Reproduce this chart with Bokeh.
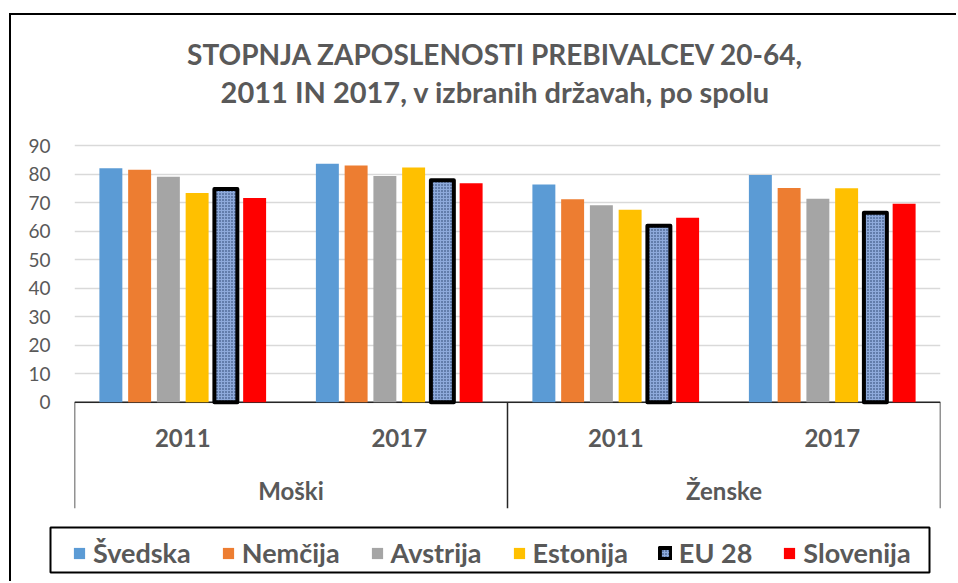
from bokeh.plotting import figure
from bokeh.models import (FactorRange, ColumnDataSource, FixedTicker, Legend, LegendItem,
                          Label, Span, Range1d, BoxAnnotation)
from bokeh.transform import dodge
from bokeh.core.properties import value
from bokeh.embed import file_html
from bokeh.resources import INLINE

# ---------------- data ----------------
sexes = ["Moški", "Ženske"]
years = ["2011", "2017"]
countries = ["Švedska", "Nemčija", "Avstrija", "Estonija", "EU 28", "Slovenija"]
svedska = [82.0, 83.6, 76.3, 79.7]
nemcija = [81.5, 83.0, 71.2, 75.1]
avstrija = [79.1, 79.3, 69.1, 71.3]
estonija = [73.4, 82.3, 67.5, 75.0]
eu28 = [74.8, 77.8, 61.9, 66.4]
slovenija = [71.6, 76.8, 64.7, 69.6]
y_ticks = [0, 10, 20, 30, 40, 50, 60, 70, 80, 90]
title_lines = ["STOPNJA ZAPOSLENOSTI PREBIVALCEV 20-64,",
               "2011 IN 2017, v izbranih državah, po spolu"]

series = [svedska, nemcija, avstrija, estonija, eu28, slovenija]
colors = ["#5b9bd5", "#ed7d31", "#a5a5a5", "#ffc000", "#8eaadb", "#ff0000"]

factors = [(s, y) for s in sexes for y in years]
year_labels = [y for s in sexes for y in years]

TXT = "#595959"
FONT = value("Lato")
BORDER = "2px solid black"

Y_BOTTOM = -37.27
Y_TOP = 135.6

p = figure(x_range=FactorRange(*factors, group_padding=0, factor_padding=0, range_padding=0),
           y_range=Range1d(Y_BOTTOM, Y_TOP),
           width=947, height=505, output_backend="svg", toolbar_location=None,
           min_border_left=63, min_border_right=18, min_border_top=0, min_border_bottom=12,
           margin=(13, 0, 0, 9),
           styles={"border-left": BORDER, "border-top": BORDER})
p.outline_line_color = None
p.background_fill_color = "white"
p.border_fill_color = "white"

p.xaxis.visible = False
p.xgrid.grid_line_color = None
p.ygrid.ticker = FixedTicker(ticks=y_ticks)
p.ygrid.grid_line_color = "#d9d9d9"
p.ygrid.grid_line_width = 1.5

p.yaxis.ticker = FixedTicker(ticks=y_ticks)
p.yaxis.axis_line_color = None
p.yaxis.major_tick_line_color = None
p.yaxis.minor_tick_line_color = None
p.yaxis.major_tick_out = 0
p.yaxis.major_label_standoff = 24
p.yaxis.major_label_text_font = "Lato"
p.yaxis.major_label_text_font_size = "19px"
p.yaxis.major_label_text_color = TXT

# category axis line
p.add_layout(Span(location=0, dimension="width", line_color="#262626", line_width=1.5,
                  level="underlay"))

# bars
pitch = 0.1328
bw = 0.106


def bar_style(name, color):
    if name == "EU 28":
        return dict(fill_color=color, line_color="black", line_width=4, line_join="round",
                    hatch_pattern="dot", hatch_color="#1f3864", hatch_scale=3, hatch_weight=2)
    return dict(fill_color=color, line_color=None)


for i, (name, vals) in enumerate(zip(countries, series)):
    src = ColumnDataSource(dict(x=factors, top=vals))
    off = (i - 2.5) * pitch
    p.vbar(x=dodge("x", off, range=p.x_range), top="top", width=bw, source=src,
           **bar_style(name, colors[i]))

# category separators (multi-level axis boxes)
sep_src = ColumnDataSource(dict(x=[factors[0], factors[2]]))
p.segment(x0=dodge("x", -0.5, range=p.x_range), x1=dodge("x", -0.5, range=p.x_range),
          y0=0, y1=Y_BOTTOM, source=sep_src, line_color="#262626", line_width=1.5)
sep_src2 = ColumnDataSource(dict(x=[factors[3]]))
p.segment(x0=dodge("x", 0.5, range=p.x_range), x1=dodge("x", 0.5, range=p.x_range),
          y0=0, y1=Y_BOTTOM, source=sep_src2, line_color="#262626", line_width=1.5)

# category labels
p.text(x=factors, y=[-12.5] * len(factors), text=year_labels, text_font=FONT,
       text_font_style="bold", text_font_size="24px", text_color=TXT,
       text_align="center", text_baseline="middle")
p.text(x=sexes, y=[-31.0] * len(sexes), text=sexes, text_font=FONT,
       text_font_style="bold", text_font_size="24px", text_color=TXT,
       text_align="center", text_baseline="middle")

# title (two centred lines, inside the tall frame)
for line, ty, fs in zip(title_lines, [122.0, 108.8], ["28px", "29px"]):
    p.add_layout(Label(x=482, y=ty, x_units="canvas", y_units="data", text=line,
                       text_align="center", text_baseline="alphabetic", text_font="Lato",
                       text_font_style="bold", text_font_size=fs, text_color=TXT))

# ---------------- legend strip (separate root, so frames are not aligned) ----------------
pl = figure(width=947, height=63, x_range=p.x_range, y_range=Range1d(0, 1),
            output_backend="svg", toolbar_location=None,
            x_axis_location=None, y_axis_location=None,
            min_border=0, min_border_left=0, min_border_right=0,
            min_border_top=0, min_border_bottom=0,
            margin=(0, 0, 0, 9), styles={"border-left": BORDER})
pl.grid.grid_line_color = None
pl.outline_line_color = None
pl.background_fill_color = "white"
pl.border_fill_color = "white"

# legend proxies: same styles, no visible marks (NaN heights)
proxy = ColumnDataSource(dict(x=factors, top=[float("nan")] * len(factors)))
leg_renderers = []
for i, name in enumerate(countries):
    leg_renderers.append(pl.vbar(x="x", top="top", width=bw, source=proxy,
                                 **bar_style(name, colors[i])))

pl.add_layout(BoxAnnotation(left=37, right=916, top=9, bottom=54,
                            left_units="canvas", right_units="canvas",
                            top_units="canvas", bottom_units="canvas",
                            fill_color=None, fill_alpha=0, line_color="black",
                            line_alpha=1.0, line_width=2))

legend = Legend(items=[LegendItem(label=n, renderers=[r]) for n, r in zip(countries, leg_renderers)],
                orientation="horizontal", location=(61, 12),
                glyph_width=14, glyph_height=14, label_standoff=7, spacing=30, padding=6,
                border_line_color=None, background_fill_alpha=0,
                label_text_font="Lato", label_text_font_style="bold",
                label_text_font_size="27px", label_text_color=TXT)
pl.add_layout(legend, "center")

open("out.html", "w").write(file_html([p, pl], INLINE))
